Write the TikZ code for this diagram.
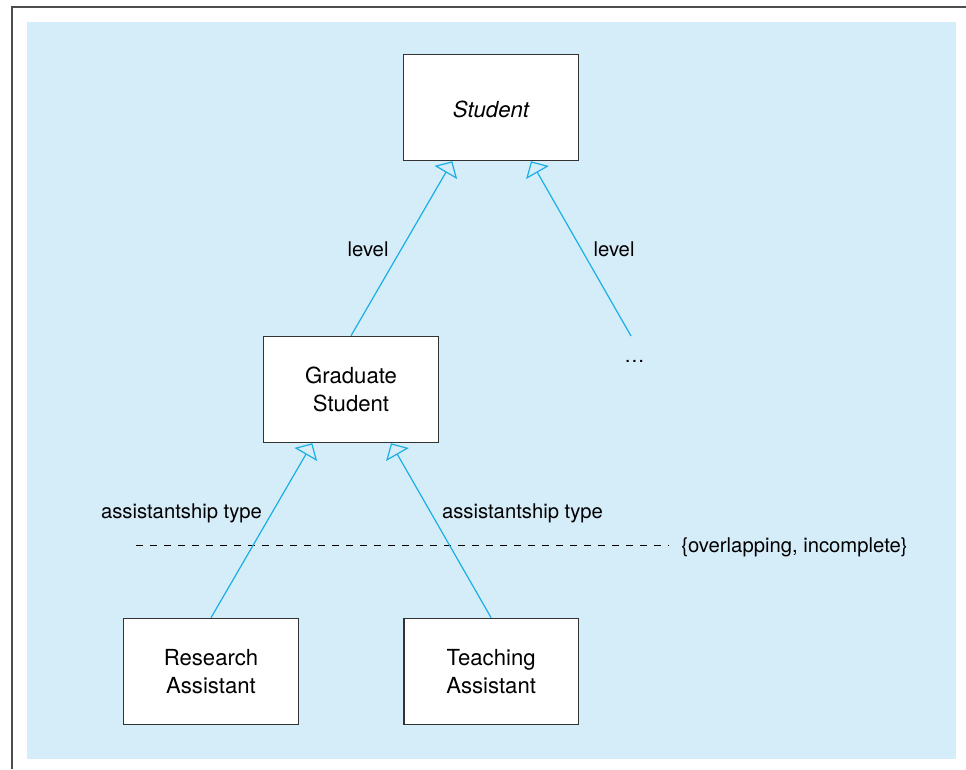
\documentclass[tikz,border=0pt]{standalone}
\usepackage{fontspec}
\setmainfont{TeX Gyre Heros}
\usetikzlibrary{arrows.meta,positioning}
\definecolor{bgblue}{HTML}{D5ECF9}
\definecolor{linkblue}{HTML}{1AAFE6}
\definecolor{framegray}{HTML}{4D4D4D}
\definecolor{boxgray}{HTML}{333333}
\begin{document}
\begin{tikzpicture}[x=0.75pt,y=-0.75pt, every node/.style={font=\fontsize{15.2}{18}\selectfont}, classbox/.style={draw=boxgray,line width=1.1pt,fill=white,minimum width=131pt,minimum height=79.5pt,align=center,text depth=-3pt,font=\fontsize{16.6}{21}\selectfont}, gen/.style={-{Triangle[open,length=9.75pt,width=19.5pt]},line width=0.9pt,draw=linkblue}, dashline/.style={draw=black,line width=0.75pt,dash pattern=on 5.25pt off 5.25pt}]
\useasboundingbox (0,0) rectangle (966,769);
\fill[bgblue] (27,22) rectangle (956,759);
\draw[framegray,line width=1.5pt] (12,769) -- (12,7) -- (966,7);
\node[classbox,text depth=0pt,text height=15.5pt,font=\fontsize{16.6}{21}\selectfont\itshape] (student) at (491,107.5) {Student};
\node[classbox] (grad) at (351,389.5) {Graduate\\Student};
\node[classbox] (ra) at (211,671.5) {Research\\Assistant};
\node[classbox,right=78pt of ra] (ta) {Teaching\\Assistant};
\coordinate (more) at (631,336);
\node (dots) at (634.5,361) {\ldots};
\node (lvlA) at (368,249) {level};
\node (lvlB) at (614,249) {level};
\node (typeA) at (181.5,513) {assistantship type};
\node (typeB) at (522.5,513) {assistantship type};
\node[inner xsep=9.5pt] (constr) at (794.5,547) {\{overlapping, incomplete\}};
\coordinate (dashstart) at (136,545);
\draw[dashline] (dashstart) -- (dashstart -| constr.west);
\draw[gen] (grad.north) -- ([xshift=-29pt]student.south);
\draw[gen] (more) -- ([xshift=30pt]student.south);
\draw[gen] (ra.north) -- ([xshift=-29pt]grad.south);
\draw[gen] (ta.north) -- ([xshift=30pt]grad.south);
\end{tikzpicture}
\end{document}
